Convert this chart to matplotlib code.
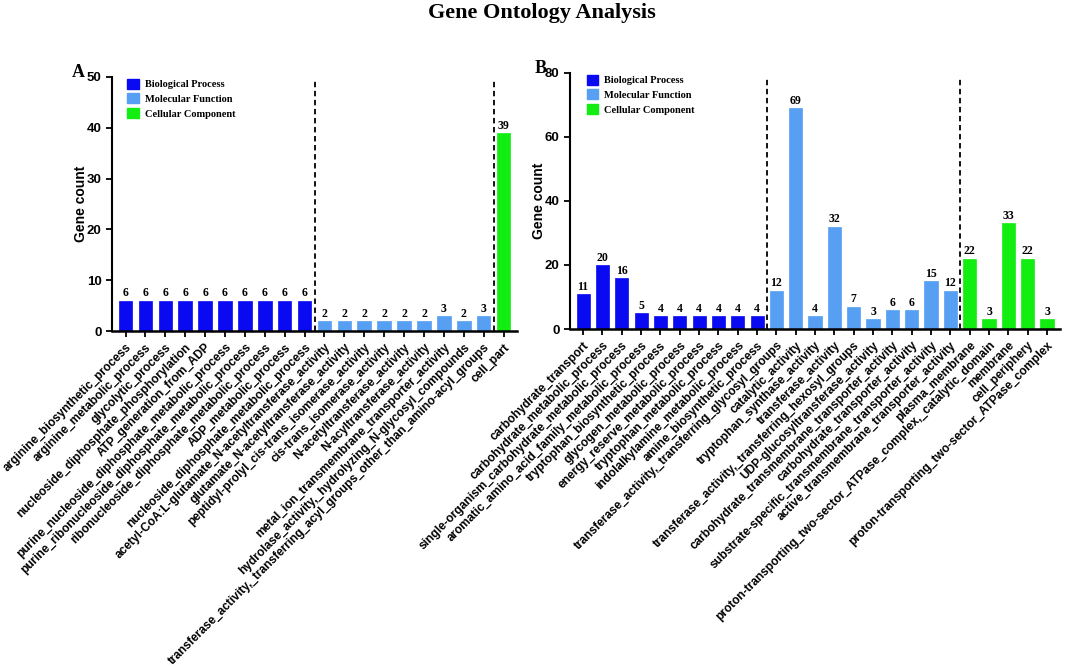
import numpy as np
import matplotlib.pyplot as plt
from matplotlib.patches import Patch

# panel A
a_labels = ["arginine_biosynthetic_process", "arginine_metabolic_process", "glycolytic_process",
            "nucleoside_diphosphate_phosphorylation", "ATP_generation_from_ADP",
            "purine_nucleoside_diphosphate_metabolic_process",
            "purine_ribonucleoside_diphosphate_metabolic_process",
            "ribonucleoside_diphosphate_metabolic_process", "ADP_metabolic_process",
            "nucleoside_diphosphate_metabolic_process",
            "acetyl-CoA:L-glutamate_N-acetyltransferase_activity",
            "glutamate_N-acetyltransferase_activity",
            "peptidyl-prolyl_cis-trans_isomerase_activity", "cis-trans_isomerase_activity",
            "N-acetyltransferase_activity", "N-acyltransferase_activity",
            "metal_ion_transmembrane_transporter_activity",
            "hydrolase_activity,_hydrolyzing_N-glycosyl_compounds",
            "transferase_activity,_transferring_acyl_groups_other_than_amino-acyl_groups",
            "cell_part"]
a_counts = [6, 6, 6, 6, 6, 6, 6, 6, 6, 6, 2, 2, 2, 2, 2, 2, 3, 2, 3, 39]
a_groups = ["BP"] * 10 + ["MF"] * 9 + ["CC"]

# panel B
b_labels = ["carbohydrate_transport", "carbohydrate_metabolic_process",
            "single-organism_carbohydrate_metabolic_process",
            "aromatic_amino_acid_family_metabolic_process", "tryptophan_biosynthetic_process",
            "glycogen_metabolic_process", "energy_reserve_metabolic_process",
            "tryptophan_metabolic_process", "indolalkylamine_metabolic_process",
            "amine_biosynthetic_process",
            "transferase_activity,_transferring_glycosyl_groups", "catalytic_activity",
            "tryptophan_synthase_activity", "transferase_activity",
            "transferase_activity,_transferring_hexosyl_groups",
            "UDP-glucosyltransferase_activity",
            "carbohydrate_transmembrane_transporter_activity",
            "carbohydrate_transporter_activity",
            "substrate-specific_transmembrane_transporter_activity",
            "active_transmembrane_transporter_activity",
            "plasma_membrane",
            "proton-transporting_two-sector_ATPase_complex,_catalytic_domain",
            "membrane", "cell_periphery", "proton-transporting_two-sector_ATPase_complex"]
b_counts = [11, 20, 16, 5, 4, 4, 4, 4, 4, 4, 12, 69, 4, 32, 7, 3, 6, 6, 15, 12, 22, 3, 33, 22, 3]
b_groups = ["BP"] * 10 + ["MF"] * 10 + ["CC"] * 5

colors = {"BP": "#0a0af2", "MF": "#569ff3", "CC": "#12ee12"}
names = {"BP": "Biological Process", "MF": "Molecular Function", "CC": "Cellular Component"}

fig = plt.figure(figsize=(10.84, 6.67), dpi=100)
fig.text(0.5, 0.995, "Gene Ontology Analysis", ha="center", va="top",
         family="Liberation Serif", weight="bold", fontsize=16)


def panel(rect, labels, counts, groups, ymax, ystep, letter, letter_x):
    ax = fig.add_axes(rect)
    x = np.arange(len(counts))
    cols = [colors[g] for g in groups]
    ax.bar(x, counts, width=0.68, color=cols, edgecolor=cols, linewidth=0.5)
    for xi, c in zip(x, counts):
        ax.text(xi, c + ymax * 0.005, str(c), ha="center", va="bottom",
                family="Liberation Serif", weight="bold", fontsize=8.5)
    # dashed separators between groups
    for i in range(1, len(groups)):
        if groups[i] != groups[i - 1]:
            ax.vlines(i - 0.5, 0, ymax * 0.985, colors="black", linestyles=(0, (3, 2)), linewidth=1.3)
    ax.set_xlim(-0.68, len(counts) - 0.32)
    ax.set_ylim(0, ymax)
    ax.set_yticks(np.arange(0, ymax + 1, ystep))
    ax.set_xticks(x)
    ax.set_xticklabels(labels, rotation=45, ha="right", rotation_mode="anchor",
                       family="Liberation Sans", weight="bold", fontsize=8.6)
    for t in ax.get_yticklabels():
        t.set_family("Liberation Sans")
        t.set_weight("bold")
        t.set_fontsize(9.5)
    ax.tick_params(axis="both", direction="out", length=4, width=1.3)
    ax.spines["top"].set_visible(False)
    ax.spines["right"].set_visible(False)
    ax.spines["left"].set_linewidth(1.5)
    ax.spines["bottom"].set_linewidth(1.8)
    ax.set_ylabel("Gene count", family="Liberation Sans", weight="bold", fontsize=10, labelpad=-1)
    ax.text(letter_x, 1.0, letter, transform=ax.transAxes,
            family="Liberation Serif", weight="bold", fontsize=13, va="baseline")
    handles = [Patch(facecolor=colors[k], edgecolor=colors[k]) for k in ["BP", "MF", "CC"]]
    ax.legend(handles, [names[k] for k in ["BP", "MF", "CC"]], loc="upper left",
              bbox_to_anchor=(0.015, 1.03), frameon=False, handlelength=1.1, handleheight=1.1,
              handletextpad=0.6, labelspacing=0.4,
              prop={"family": "Liberation Serif", "weight": "bold", "size": 7.5})
    return ax


panel([0.1033, 0.5037, 0.3737, 0.381], a_labels, a_counts, a_groups, 50, 10, "A", -0.1)
panel([0.5258, 0.5067, 0.4522, 0.384], b_labels, b_counts, b_groups, 80, 20, "B", -0.072)

fig.savefig("out.png", dpi=100)
